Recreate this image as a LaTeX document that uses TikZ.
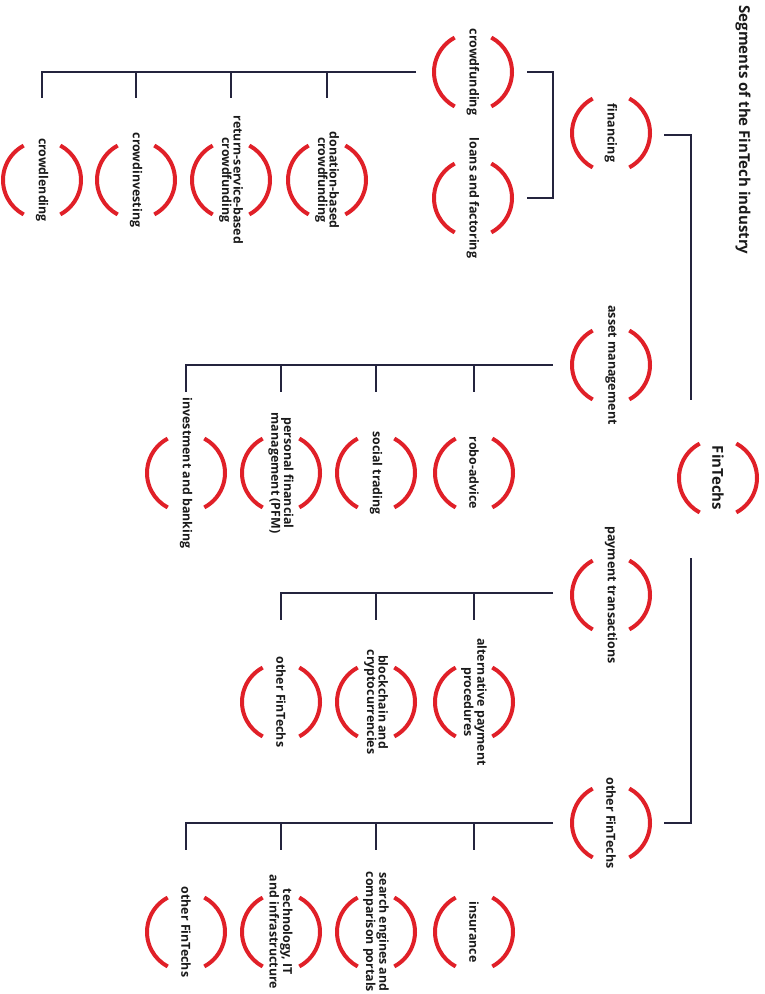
\documentclass[tikz,border=0pt]{standalone}
\usepackage{fontspec}
\setmainfont{Open Sans}
\usetikzlibrary{calc}
\definecolor{ringred}{RGB}{224,32,40}
\definecolor{linenavy}{RGB}{36,36,62}
\definecolor{inkdark}{RGB}{26,26,26}
\tikzset{
  conn/.style={draw=linenavy, line width=1.8pt, line join=miter},
  arcpen/.style={draw=ringred, line width=4pt},
  txt/.style={rotate=-90, inner sep=0pt, align=center, text=inkdark},
  rootlbl/.style={txt, font=\bfseries\fontsize{15}{16}\selectfont},
  seglbl/.style={txt, font=\bfseries\fontsize{12.5}{13}\selectfont},
  leaflbl/.style={txt, font=\bfseries\fontsize{12.4}{11.5}\selectfont},
}
% two facing arcs around a node centre
\newcommand\ringat[1]{%
  \draw[arcpen] ($(#1)+(-18.3,-34.4)$) arc[start angle=118, end angle=242, radius=39pt];
  \draw[arcpen] ($(#1)+(18.3,34.4)$) arc[start angle=-62, end angle=62, radius=39pt];}
\begin{document}
\begin{tikzpicture}[x=1pt, y=-1pt]
\useasboundingbox (0,0) rectangle (765,994);

% title
\node[rootlbl] (title) at (743,130) {Segments of the FinTech industry};

% root and segments
\node[rootlbl] (root) at (718,478) {FinTechs};
\node[seglbl] (fin) at (611,133) {financing};
\node[seglbl] (am)  at (611,365) {asset management};
\node[seglbl] (pt)  at (611,595) {payment transactions};
\node[seglbl] (of)  at (611,823) {other FinTechs};

% financing branches
\node[seglbl] (cf) at (473,72)  {crowdfunding};
\node[seglbl] (lf) at (473,198) {loans and factoring};

% crowdfunding types
\node[leaflbl] (c1) at (42,180)  {crowdlending};
\node[leaflbl] (c2) at (136,180) {crowdinvesting};
\node[leaflbl] (c3) at (231,180) {return-service-based\\crowdfunding};
\node[leaflbl] (c4) at (327,180) {donation-based\\crowdfunding};

% asset management
\node[leaflbl] (a1) at (186,473) {investment and banking};
\node[leaflbl] (a2) at (281,473) {personal financial\\management (PFM)};
\node[leaflbl] (a3) at (376,473) {social trading};
\node[leaflbl] (a4) at (474,473) {robo-advice};

% payment transactions
\node[leaflbl] (p1) at (281,702) {other FinTechs};
\node[leaflbl] (p2) at (376,702) {blockchain and\\cryptocurrencies};
\node[leaflbl] (p3) at (474,702) {alternative payment\\procedures};

% other FinTechs
\node[leaflbl] (o1) at (186,932) {other FinTechs};
\node[leaflbl] (o2) at (281,932) {technology, IT\\and infrastructure};
\node[leaflbl] (o3) at (376,932) {search engines and\\comparison portals};
\node[leaflbl] (o4) at (474,932) {insurance};

\foreach \n in {root,fin,am,pt,of,cf,lf,c1,c2,c3,c4,a1,a2,a3,a4,p1,p2,p3,o1,o2,o3,o4}
  {\ringat{\n}}

% root bracket
\coordinate (rtop) at ($(root)+(-27,-78)$);
\coordinate (rbot) at ($(root)+(-27,80)$);
\draw[conn] ($(fin)+(53,2)$) -| (rtop);
\draw[conn] ($(of)+(53,0)$) -| (rbot);

% financing bracket
\draw[conn] ($(cf)+(54,0)$) -| ($(fin)+(-58,0)$) |- ($(lf)+(54,0)$);

% crowdfunding bus
\draw[conn] ($(cf)+(-57,0)$) -- (c1 |- cf) -- ($(c1)+(0,-82)$);
\foreach \n in {c2,c3,c4} {\draw[conn] (\n |- cf) -- ($(\n)+(0,-82)$);}

% asset management bus
\draw[conn] ($(am)+(-58,0)$) -- (a1 |- am) -- ($(a1)+(0,-81)$);
\foreach \n in {a2,a3,a4} {\draw[conn] (\n |- am) -- ($(\n)+(0,-81)$);}

% payment transactions bus
\draw[conn] ($(pt)+(-58,-2)$) -- (p1 |- {$(pt)+(0,-2)$}) -- ($(p1)+(0,-82)$);
\foreach \n in {p2,p3} {\draw[conn] (\n |- {$(pt)+(0,-2)$}) -- ($(\n)+(0,-82)$);}

% other FinTechs bus
\draw[conn] ($(of)+(-58,0)$) -- (o1 |- of) -- ($(o1)+(0,-82)$);
\foreach \n in {o2,o3,o4} {\draw[conn] (\n |- of) -- ($(\n)+(0,-82)$);}
\end{tikzpicture}
\end{document}
